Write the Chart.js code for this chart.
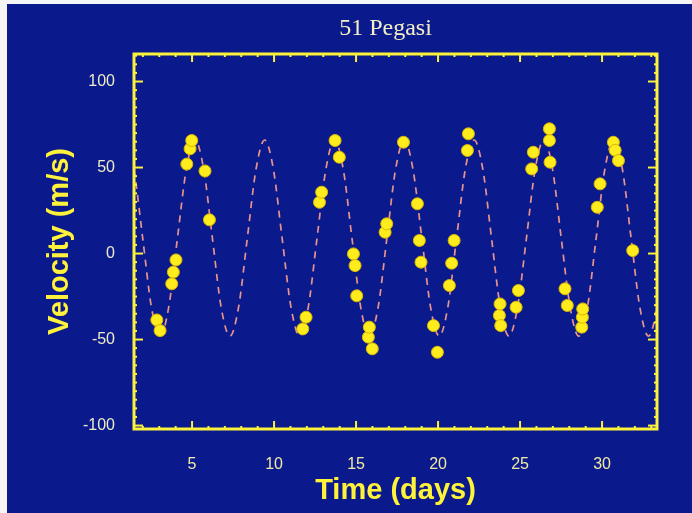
<!DOCTYPE html>
<html>
<head>
<meta charset="utf-8">
<title>51 Pegasi</title>
<script src="https://cdn.jsdelivr.net/npm/chart.js@4.4.1/dist/chart.umd.min.js"></script>
<style>
  html, body { margin: 0; padding: 0; background: #f5f5f5; overflow: hidden; }
  #rv { position: absolute; left: 7px; top: 4px; }
</style>
</head>
<body>
<canvas id="rv" width="685" height="509"></canvas>
<script>
"use strict";

// radial velocity measurements (days, m/s)
const obsDays = [
  2.85, 3.05, 3.76, 3.86, 4.02, 4.68, 4.88, 4.98, 5.79, 6.06,
  11.75, 11.95, 12.77, 12.9, 13.72, 13.98, 14.84, 14.94, 15.04, 15.75,
  15.81, 15.99, 16.77, 16.87, 17.89, 18.74, 18.86, 18.96, 19.72, 19.96,
  20.69, 20.83, 20.98, 21.79, 21.85, 23.74, 23.78, 23.82, 24.76, 24.9,
  25.71, 25.81, 26.79, 26.79, 26.83, 27.74, 27.88, 28.76, 28.8, 28.82,
  29.71, 29.88, 30.69, 30.8, 31.0, 31.87,
];
const obsVel = [
  -38.6, -44.8, -17.6, -10.8, -3.7, 52, 60.9, 65.7, 48, 19.6,
  -43.8, -37, 29.8, 35.7, 65.7, 56, -0.2, -7, -24.6, -48.6,
  -42.8, -55.4, 12.4, 17.3, 64.7, 28.9, 7.6, -5, -41.9, -57.4,
  -18.6, -5.6, 7.6, 59.9, 69.6, -36, -29.3, -41.9, -31.2, -21.5,
  49.2, 58.9, 65.7, 72.5, 53.1, -20.5, -30.2, -42.8, -37, -32.2,
  26.9, 40.5, 64.7, 60, 54, 1.7,
];

// orbit fit, sampled every eighth of a period
const fitDays = [
  0.92, 1.45, 1.99, 2.52, 3.05, 3.58, 4.11, 4.65,
  5.18, 5.71, 6.24, 6.77, 7.31, 7.84, 8.37, 8.90,
  9.43, 9.96, 10.49, 11.03, 11.56, 12.09, 12.62, 13.16,
  13.69, 14.22, 14.75, 15.28, 15.81, 16.35, 16.88, 17.41,
  17.94, 18.47, 19.01, 19.54, 20.07, 20.60, 21.13, 21.66,
  22.20, 22.73, 23.26, 23.79, 24.32, 24.85, 25.39, 25.92,
  26.45, 26.98, 27.51, 28.05, 28.58, 29.11, 29.64, 30.17,
  30.71, 31.24, 31.77, 32.30, 32.83, 33.36, 33.90,
];
const fitVel = [
  66, 49, 9, -31, -48, -31, 9, 49,
  66, 49, 9, -31, -48, -31, 9, 49,
  66, 49, 9, -31, -48, -31, 9, 49,
  66, 49, 9, -31, -48, -31, 9, 49,
  66, 49, 9, -31, -48, -31, 9, 49,
  66, 49, 9, -31, -48, -31, 9, 49,
  66, 49, 9, -31, -48, -31, 9, 49,
  66, 49, 9, -31, -48, -31, 9,
];

const xTicks = [5, 10, 15, 20, 25, 30];
const yTicks = [-100, -50, 0, 50, 100];

const NAVY = "#0a1a8c";
const YELLOW = "#fbf23c";

// backdrop, boxed frame with inward ticks on all sides, and the title
const frame = {
  id: "frame",
  beforeDraw(chart) {
    const { ctx, width, height } = chart;
    ctx.save();
    ctx.fillStyle = NAVY;
    ctx.fillRect(0, 0, width, height);
    ctx.restore();
  },
  afterDatasetsDraw(chart) {
    const { ctx, chartArea: a, scales } = chart;
    const { x, y } = scales;
    const seg = (x1, y1, x2, y2) => {
      ctx.beginPath();
      ctx.moveTo(x1, y1);
      ctx.lineTo(x2, y2);
      ctx.stroke();
    };
    ctx.save();
    ctx.strokeStyle = YELLOW;
    ctx.lineWidth = 2;
    for (let d = Math.ceil(x.min); d <= x.max; d += 1) {
      const px = x.getPixelForValue(d);
      const len = d % 5 === 0 ? 8 : 3;
      seg(px, a.bottom, px, a.bottom - len);
      seg(px, a.top, px, a.top + len);
    }
    for (let v = Math.ceil(y.min / 5) * 5; v <= y.max; v += 5) {
      const py = y.getPixelForValue(v);
      const len = v % 50 === 0 ? 9 : 3;
      seg(a.left, py, a.left + len, py);
      seg(a.right, py, a.right - len, py);
    }
    ctx.lineWidth = 3;
    ctx.strokeRect(a.left, a.top, a.right - a.left, a.bottom - a.top);

    ctx.fillStyle = "#f3efc4";
    ctx.font = '24px "Liberation Serif", serif';
    ctx.textAlign = "center";
    ctx.textBaseline = "middle";
    ctx.fillText("51 Pegasi", (a.left + a.right) / 2 - 10, 25);
    ctx.restore();
  },
};

new Chart(document.getElementById("rv"), {
  type: "scatter",
  data: {
    datasets: [
      {
        label: "Fit",
        type: "line",
        data: fitDays.map((d, i) => ({ x: d, y: fitVel[i] })),
        borderColor: "#e8948c",
        borderWidth: 1.7,
        borderDash: [7, 6],
        pointRadius: 0,
        fill: false,
        cubicInterpolationMode: "monotone",
        order: 2,
      },
      {
        label: "Velocity",
        data: obsDays.map((d, i) => ({ x: d, y: obsVel[i] })),
        backgroundColor: "#ffec1c",
        borderColor: "#d9b800",
        borderWidth: 1,
        pointRadius: 6,
        order: 1,
      },
    ],
  },
  options: {
    responsive: false,
    animation: false,
    layout: { padding: { top: 50, right: 35, left: 0, bottom: 0 } },
    plugins: { legend: { display: false }, tooltip: { enabled: false } },
    scales: {
      x: {
        type: "linear",
        min: 1.46,
        max: 33.35,
        afterBuildTicks: (s) => { s.ticks = xTicks.map((value) => ({ value })); },
        afterFit: (s) => { s.height = 84; },
        grid: { display: false },
        border: { display: false },
        ticks: {
          color: "#efe9a4",
          padding: 18,
          maxRotation: 0,
          font: { family: "Liberation Sans", size: 16 },
        },
        title: {
          display: true,
          text: "Time (days)",
          color: "#fff23a",
          font: { family: "Liberation Sans", size: 29, weight: "bold" },
          padding: { top: 0, bottom: 5 },
        },
      },
      y: {
        min: -102,
        max: 116,
        afterBuildTicks: (s) => { s.ticks = yTicks.map((value) => ({ value })); },
        afterFit: (s) => { s.width = 127; },
        grid: { display: false },
        border: { display: false },
        ticks: {
          color: "#ecebc6",
          padding: 11,
          font: { family: "Liberation Sans", size: 16 },
        },
        title: {
          display: true,
          text: "Velocity (m/s)",
          color: "#fff23a",
          font: { family: "Liberation Sans", size: 29, weight: "bold" },
          padding: { top: 36, bottom: 0 },
        },
      },
    },
  },
  plugins: [frame],
});
</script>
</body>
</html>
